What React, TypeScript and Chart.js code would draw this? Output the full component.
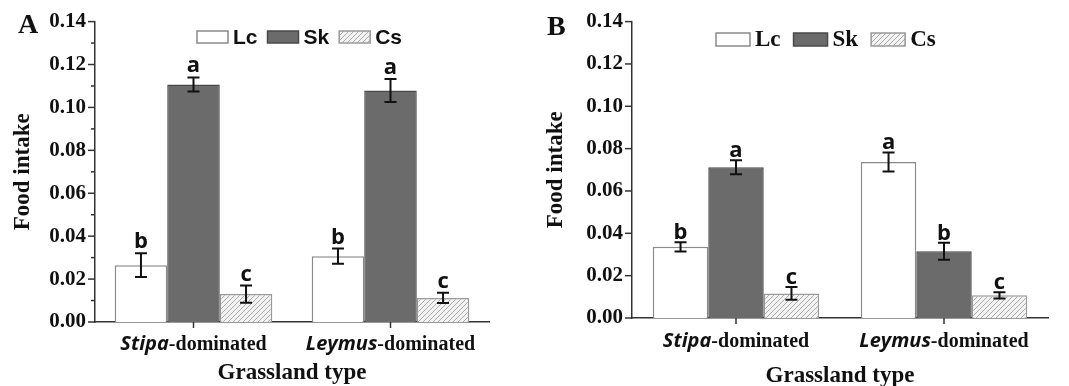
import React, { useEffect, useRef } from "react";
import { Chart, registerables } from "chart.js";

Chart.register(...registerables);

// ---------- data ----------
const categories = ["Stipa", "Leymus"];
const categorySuffix = "-dominated";
const seriesLabels = ["Lc", "Sk", "Cs"];
const yTickMin = 0;
const yTickMax = 0.14;

// Panel A
const aLc = [0.0265, 0.0307];
const aSk = [0.1107, 0.1079];
const aCs = [0.013, 0.0112];
const aLcErr = [0.0055, 0.0035];
const aSkErr = [0.0033, 0.0054];
const aCsErr = [0.004, 0.0024];
const aLcSig = ["b", "b"];
const aSkSig = ["a", "a"];
const aCsSig = ["c", "c"];

// Panel B
const bLc = [0.0336, 0.0737];
const bSk = [0.0712, 0.0315];
const bCs = [0.0116, 0.0107];
const bLcErr = [0.0022, 0.0045];
const bSkErr = [0.0033, 0.004];
const bCsErr = [0.003, 0.0015];
const bLcSig = ["b", "a"];
const bSkSig = ["a", "b"];
const bCsSig = ["c", "c"];

const xTitle = "Grassland type";
const yTitle = "Food intake";

// ---------- styles ----------
const SERIF = '"Liberation Serif", "Times New Roman", serif';
const TEXT = "#111";

function makeHatch(): CanvasPattern | string {
  const c = document.createElement("canvas");
  c.width = 5;
  c.height = 5;
  const g = c.getContext("2d");
  if (!g) return "#eee";
  g.fillStyle = "#f2f2f2";
  g.fillRect(0, 0, 5, 5);
  g.strokeStyle = "#aaaaaa";
  g.lineWidth = 1;
  g.beginPath();
  g.moveTo(-1, 6);
  g.lineTo(6, -1);
  g.moveTo(-1, 1);
  g.lineTo(1, -1);
  g.moveTo(4, 6);
  g.lineTo(6, 4);
  g.stroke();
  const p = g.createPattern(c, "repeat");
  return p || "#eee";
}

type Panel = {
  letter: string;
  lc: number[];
  sk: number[];
  cs: number[];
  errs: number[][];
  sigs: string[][];
  yAxisWidth: number;
  padRight: number;
  padTop: number;
  xAxisHeight: number;
  minorTicks: boolean;
  letterX: number;
  letterY: number;
  legendX: number;
  legendY: number;
  legendBoxW: number;
  legendBoxH: number;
  legendTextGap: number;
  legendItemGap: number;
  legendFont: string;
  sigGap: number;
  titleX: number;
  xLabelBaseline: number;
  xTitleBaseline: number;
};

const panelA: Panel = {
  letter: "A",
  lc: aLc,
  sk: aSk,
  cs: aCs,
  errs: [aLcErr, aSkErr, aCsErr],
  sigs: [aLcSig, aSkSig, aCsSig],
  yAxisWidth: 95,
  padRight: 45,
  padTop: 21,
  xAxisHeight: 64,
  minorTicks: true,
  letterX: 18,
  letterY: 33,
  legendX: 197,
  legendY: 31,
  legendBoxW: 31,
  legendBoxH: 12,
  legendTextGap: 5,
  legendItemGap: 10,
  legendFont: 'bold 21px "Liberation Sans", Arial, sans-serif',
  sigGap: 5,
  titleX: 23,
  xLabelBaseline: 350,
  xTitleBaseline: 379,
};

const panelB: Panel = {
  letter: "B",
  lc: bLc,
  sk: bSk,
  cs: bCs,
  errs: [bLcErr, bSkErr, bCsErr],
  sigs: [bLcSig, bSkSig, bCsSig],
  yAxisWidth: 98,
  padRight: 21,
  padTop: 21,
  xAxisHeight: 68,
  minorTicks: false,
  letterX: 13,
  letterY: 35,
  legendX: 182,
  legendY: 33,
  legendBoxW: 34,
  legendBoxH: 13,
  legendTextGap: 5,
  legendItemGap: 13,
  legendFont: "bold 23px " + SERIF,
  sigGap: 3,
  titleX: 22,
  xLabelBaseline: 347,
  xTitleBaseline: 382,
};

function makeDecor(p: Panel) {
  return {
    id: "decor" + p.letter,
    afterDatasetsDraw(chart: any) {
      const ctx = chart.ctx;
      const y = chart.scales.y;
      ctx.save();
      chart.data.datasets.forEach((ds: any, di: number) => {
        const meta = chart.getDatasetMeta(di);
        meta.data.forEach((bar: any, i: number) => {
          const v = ds.data[i];
          const e = p.errs[di][i];
          const yt = y.getPixelForValue(v + e);
          const yb = y.getPixelForValue(v - e);
          const x = bar.x;
          ctx.strokeStyle = "#111";
          ctx.lineWidth = 2;
          ctx.beginPath();
          ctx.moveTo(x, yt);
          ctx.lineTo(x, yb);
          ctx.moveTo(x - 6, yt);
          ctx.lineTo(x + 6, yt);
          ctx.moveTo(x - 6, yb);
          ctx.lineTo(x + 6, yb);
          ctx.stroke();
          ctx.fillStyle = TEXT;
          ctx.font = 'bold 22px "Open Sans", sans-serif';
          ctx.textAlign = "center";
          ctx.textBaseline = "alphabetic";
          ctx.fillText(p.sigs[di][i], x, yt - p.sigGap);
        });
      });
      ctx.restore();
    },
    afterDraw(chart: any) {
      const ctx = chart.ctx;
      const y = chart.scales.y;
      const x = chart.scales.x;
      const area = chart.chartArea;
      ctx.save();
      // y tick marks
      ctx.strokeStyle = "#333";
      ctx.lineWidth = 1.5;
      y.ticks.forEach((t: any) => {
        const major = Math.round(t.value * 100) % 2 === 0;
        if (!major && !p.minorTicks) return;
        const py = y.getPixelForValue(t.value);
        const len = major ? 7 : 4;
        ctx.beginPath();
        ctx.moveTo(area.left - len, py);
        ctx.lineTo(area.left, py);
        ctx.stroke();
      });
      // x tick marks + labels
      categories.forEach((c, i) => {
        const px = x.getPixelForTick(i);
        ctx.beginPath();
        ctx.moveTo(px, area.bottom);
        ctx.lineTo(px, area.bottom + 6);
        ctx.stroke();
        const f1 = 'italic bold 20px "Open Sans", sans-serif';
        const f2 = "bold 20px " + SERIF;
        ctx.font = f1;
        const w1 = ctx.measureText(c).width;
        ctx.font = f2;
        const w2 = ctx.measureText(categorySuffix).width;
        const sx = px - (w1 + w2) / 2;
        ctx.fillStyle = TEXT;
        ctx.textAlign = "left";
        ctx.textBaseline = "alphabetic";
        ctx.font = f1;
        ctx.fillText(c, sx, p.xLabelBaseline);
        ctx.font = f2;
        ctx.fillText(categorySuffix, sx + w1, p.xLabelBaseline);
      });
      // axis titles
      ctx.font = "bold 23px " + SERIF;
      ctx.textAlign = "center";
      ctx.fillText(xTitle, (area.left + area.right) / 2, p.xTitleBaseline);
      ctx.save();
      ctx.translate(p.titleX, (area.top + area.bottom) / 2);
      ctx.rotate(-Math.PI / 2);
      ctx.textBaseline = "middle";
      ctx.fillText(yTitle, 0, 0);
      ctx.restore();
      // panel letter
      ctx.font = "bold 28px " + SERIF;
      ctx.textAlign = "left";
      ctx.textBaseline = "alphabetic";
      ctx.fillText(p.letter, p.letterX, p.letterY);
      // legend
      let lx = p.legendX;
      ctx.font = p.legendFont;
      chart.data.datasets.forEach((ds: any) => {
        ctx.fillStyle = ds.backgroundColor;
        ctx.fillRect(lx, p.legendY, p.legendBoxW, p.legendBoxH);
        ctx.strokeStyle = ds.borderColor;
        ctx.lineWidth = 1.5;
        ctx.strokeRect(lx, p.legendY, p.legendBoxW, p.legendBoxH);
        lx += p.legendBoxW + p.legendTextGap;
        ctx.fillStyle = TEXT;
        ctx.textBaseline = "middle";
        ctx.fillText(ds.label, lx, p.legendY + p.legendBoxH / 2 + 1);
        lx += ctx.measureText(ds.label).width + p.legendItemGap;
      });
      ctx.restore();
    },
  };
}

function PanelChart({ p, width }: { p: Panel; width: number }) {
  const ref = useRef<HTMLCanvasElement | null>(null);
  useEffect(() => {
    if (!ref.current) return;
    const hatch = makeHatch();
    const chart = new Chart(ref.current, {
      type: "bar",
      data: {
        labels: categories,
        datasets: [
          { label: seriesLabels[0], data: p.lc, backgroundColor: "#ffffff", borderColor: "#8a8a8a", borderWidth: 1.5 },
          { label: seriesLabels[1], data: p.sk, backgroundColor: "#6b6b6b", borderColor: "#4a4a4a", borderWidth: 1.5 },
          { label: seriesLabels[2], data: p.cs, backgroundColor: hatch as any, borderColor: "#9a9a9a", borderWidth: 1.5 },
        ],
      },
      options: {
        responsive: false,
        animation: false,
        events: [],
        layout: { padding: { left: 0, right: p.padRight, top: p.padTop, bottom: 0 } },
        datasets: { bar: { categoryPercentage: 0.8, barPercentage: 1.0 } },
        plugins: { legend: { display: false }, tooltip: { enabled: false }, title: { display: false } },
        scales: {
          x: {
            grid: { display: false },
            ticks: { display: false },
            border: { display: true, color: "#333", width: 1.5 },
            afterFit: (s: any) => {
              s.height = p.xAxisHeight;
            },
          },
          y: {
            min: yTickMin,
            max: yTickMax,
            grid: { display: false, drawTicks: false },
            border: { display: true, color: "#333", width: 1.5 },
            ticks: {
              stepSize: p.minorTicks ? 0.01 : 0.02,
              padding: 9,
              color: TEXT,
              font: { family: SERIF, size: 21, weight: "bold" },
              autoSkip: false,
              callback: (v: any) => {
                const n = Number(v);
                return Math.round(n * 100) % 2 === 0 ? n.toFixed(2) : "";
              },
            },
            afterFit: (s: any) => {
              s.width = p.yAxisWidth;
            },
          },
        },
      },
      plugins: [makeDecor(p)],
    } as any);
    return () => chart.destroy();
  }, [p]);
  return <canvas ref={ref} width={width} height={386} style={{ width, height: 386, display: "block" }} />;
}

export default function App() {
  return (
    <div style={{ position: "fixed", left: 0, top: 0, width: 1069, height: 386, background: "#fff", display: "flex" }}>
      <PanelChart p={panelA} width={534} />
      <PanelChart p={panelB} width={535} />
    </div>
  );
}
